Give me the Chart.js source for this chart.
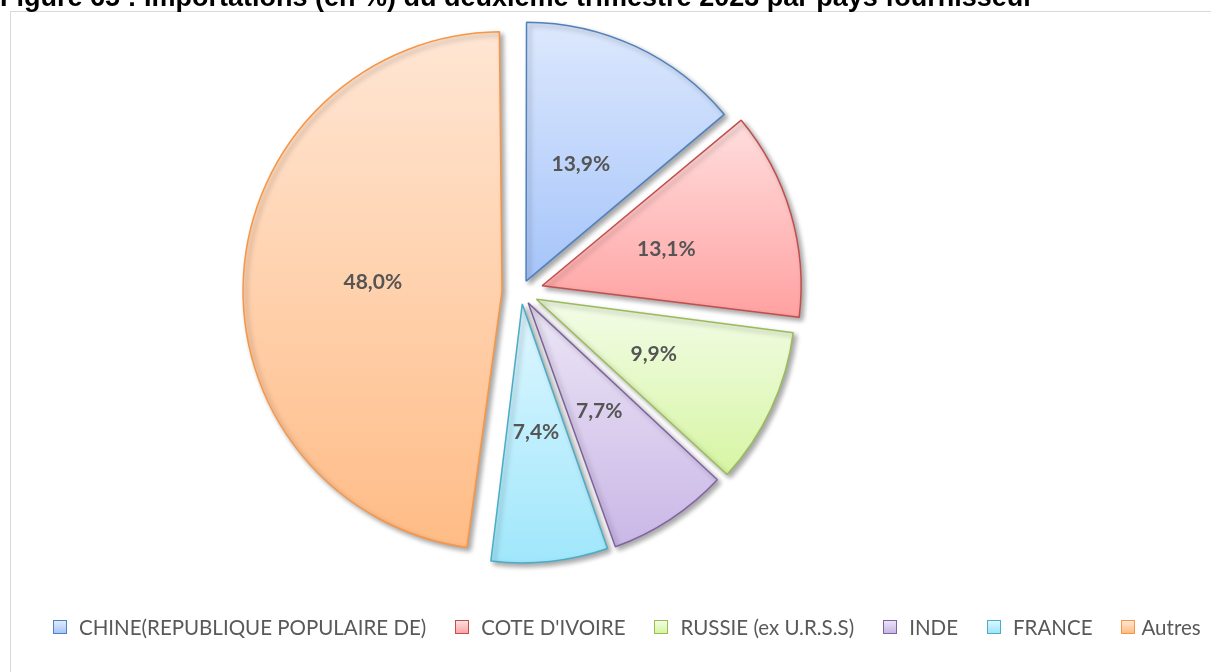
<!DOCTYPE html>
<html>
<head>
<meta charset="utf-8">
<script src="https://cdn.jsdelivr.net/npm/chart.js@4.4.1/dist/chart.umd.min.js"></script>
<style>
html,body{margin:0;padding:0;background:#fff;overflow:hidden}
body{width:1211px;height:672px;position:relative}
#frame{position:absolute;left:10px;top:11px;width:1300px;height:800px;border:1px solid #d9d9d9;box-sizing:border-box}
#title{position:absolute;left:0;top:-16px;font:bold 27px/27px 'Liberation Sans',Arial,sans-serif;color:#000;white-space:nowrap;z-index:2}
#wrap{position:absolute;left:0;top:0;width:1211px;height:672px}
#legend{position:absolute;left:53px;top:615px;display:flex;align-items:center;font:20.5px Lato,sans-serif;color:#595959;white-space:nowrap}
#legend .item{display:flex;align-items:center;margin-right:29px}
#legend .item:last-child{margin-right:0}
#legend .sw{width:12px;height:12px;border:1px solid;margin-right:12px}
</style>
</head>
<body>
<div id="frame"></div>
<div id="title">Figure 65 : Importations (en %) du deuxième trimestre 2023 par pays fournisseur</div>
<div id="wrap"><canvas id="chart"></canvas></div>
<div id="legend"></div>
<script>
const labels=['CHINE(REPUBLIQUE POPULAIRE DE)','COTE D\'IVOIRE','RUSSIE (ex U.R.S.S)','INDE','FRANCE','Autres'];
const values=[13.9,13.1,9.9,7.7,7.4,48.0];
const valueText=['13,9%','13,1%','9,9%','7,7%','7,4%','48,0%'];

const borders=['#4f81bd','#c0504d','#9bbb59','#8064a2','#4bacc6','#f79646'];
const topCols=['#dfeafd','#ffe0e0','#f2fce5','#ebe4f5','#dcf6ff','#ffe6d4'];
const botCols=['#a8c6fa','#ffa3a3','#d5f5a0','#c8b5e6','#9de6fb','#ffbc86'];
const explode=[12,22,17,13,12,19]; // px the slice is pulled out
const RADIUS=259;

const total=values.reduce((a,b)=>a+b,0);
const circ=values.map(v=>v/total*2*Math.PI);
// chart.js translates an arc by offset/4 and also grows its radius by offset/4*fix
const growFix=circ.map(c=>1-Math.sin(Math.min(Math.PI,c)));

// vertical gradient spanning the slice's own bounding box
function sliceGrad(c){
  const i=c.dataIndex, ch=c.chart, area=ch.chartArea;
  if(!area)return topCols[i];
  const cy=(area.top+area.bottom)/2;
  let cum=0;for(let k=0;k<i;k++)cum+=circ[k];
  const a0=-Math.PI/2+cum, a1=a0+circ[i], am=(a0+a1)/2;
  const oy=cy+Math.sin(am)*explode[i];
  let minY=oy,maxY=oy;
  for(let s=0;s<=40;s++){const a=a0+(a1-a0)*s/40;const y=oy+Math.sin(a)*RADIUS;minY=Math.min(minY,y);maxY=Math.max(maxY,y);}
  const g=ch.ctx.createLinearGradient(0,minY,0,maxY);
  g.addColorStop(0,topCols[i]);g.addColorStop(1,botCols[i]);
  return g;
}

// keep every exploded slice at the same radius
const keepRadius={
  id:'keepRadius',
  afterDatasetUpdate(chart){
    chart.getDatasetMeta(0).data.forEach((arc,i)=>{arc.outerRadius=RADIUS-explode[i]*growFix[i];});
  }
};

const shadowPlugin={
  id:'shadow',
  beforeDatasetsDraw(chart){const x=chart.ctx;x.save();x.shadowColor='rgba(0,0,0,0.35)';x.shadowBlur=5;x.shadowOffsetX=3;x.shadowOffsetY=3;},
  afterDatasetsDraw(chart){chart.ctx.restore();}
};

const valueLabels={
  id:'valueLabels',
  afterDatasetsDraw(chart){
    const ctx=chart.ctx;
    ctx.save();
    ctx.font="bold 21px Lato, sans-serif";ctx.fillStyle='#555555';
    ctx.textAlign='center';ctx.textBaseline='middle';
    chart.getDatasetMeta(0).data.forEach((arc,i)=>{
      const p=arc.getProps(['x','y','startAngle','endAngle'],true);
      const am=(p.startAngle+p.endAngle)/2, r=explode[i]+RADIUS*0.5;
      ctx.fillText(valueText[i],p.x+Math.cos(am)*r,p.y+Math.sin(am)*r);
    });
    ctx.restore();
  }
};

new Chart(document.getElementById('chart'),{
  type:'pie',
  data:{labels:labels,datasets:[{data:values,backgroundColor:sliceGrad,borderColor:borders,borderWidth:1.5,offset:explode.map(d=>d*4),hoverOffset:0}]},
  options:{
    responsive:true,maintainAspectRatio:false,animation:false,
    radius:RADIUS,
    layout:{padding:{left:0,top:0,right:169,bottom:88}},
    plugins:{legend:{display:false},tooltip:{enabled:false}}
  },
  plugins:[keepRadius,shadowPlugin,valueLabels]
});

const lg=document.getElementById('legend');
labels.forEach((l,i)=>{
  const it=document.createElement('div');it.className='item';
  const sw=document.createElement('span');sw.className='sw';
  sw.style.borderColor=borders[i];sw.style.background=`linear-gradient(${topCols[i]},${botCols[i]})`;
  if(i===labels.length-1)sw.style.marginRight='6px';
  const tx=document.createElement('span');tx.textContent=l;
  it.appendChild(sw);it.appendChild(tx);lg.appendChild(it);
});
</script>
</body>
</html>
